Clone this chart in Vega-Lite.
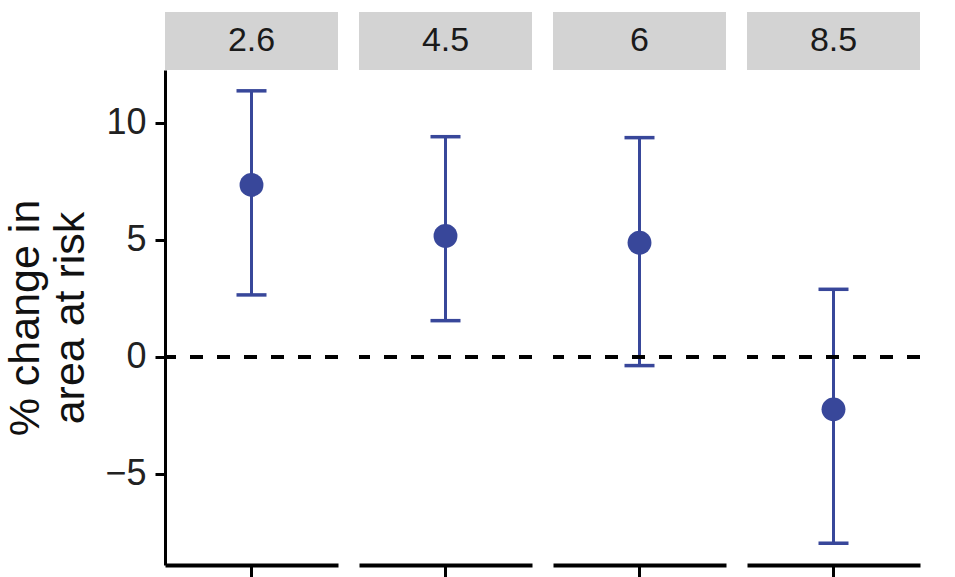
{
  "$schema": "https://vega.github.io/schema/vega-lite/v6.json",
  "background": "white",
  "padding": {"left": 4, "top": 12, "right": 5, "bottom": 0},
  "bounds": "flush",
  "columns": 4,
  "spacing": {"row": 0, "column": 21},
  "resolve": {"scale": {"x": "independent", "y": "independent"}},
  "data": {
    "values": [
      {"scenario": "2.6", "est": 7.35, "lo": 2.65, "hi": 11.37},
      {"scenario": "4.5", "est": 5.17, "lo": 1.55, "hi": 9.41},
      {"scenario": "6", "est": 4.88, "lo": -0.37, "hi": 9.37},
      {"scenario": "8.5", "est": -2.24, "lo": -7.96, "hi": 2.89}
    ]
  },
  "config": {
    "axisX": {"labels": false, "title": null, "ticks": true, "tickSize": 12, "tickWidth": 3, "tickColor": "black", "domainColor": "black", "domainWidth": 4, "grid": false},
    "axisY": {
      "grid": false,
      "domainColor": "black",
      "domainWidth": 3,
      "tickColor": "black",
      "tickWidth": 3,
      "tickSize": 10,
      "labelFont": "Liberation Sans",
      "labelFontSize": 36,
      "labelColor": "#222222",
      "labelPadding": 9,
      "titleFont": "Liberation Sans",
      "titleFontSize": 43,
      "titleFontWeight": "normal",
      "titleColor": "#111111",
      "titleLineHeight": 45,
      "titlePadding": 12
    },
    "text": {"font": "Liberation Sans", "fontSize": 34, "color": "#1A1A1A", "baseline": "middle", "align": "center"},
    "rule": {"color": "#38479A", "strokeWidth": 3},
    "tick": {"color": "#38479A", "thickness": 3.5, "orient": "horizontal", "opacity": 1},
    "point": {"filled": true, "opacity": 1, "color": "#38479A", "size": 570, "shape": "circle"}
  },
  "concat": [
    {"width": 173, "height": 58, "view": {"fill": "#D3D3D3", "stroke": null}, "transform": [{"filter": "datum.scenario === '2.6'"}], "mark": "text", "encoding": {"text": {"field": "scenario", "type": "nominal"}}},
    {"width": 173, "height": 58, "view": {"fill": "#D3D3D3", "stroke": null}, "transform": [{"filter": "datum.scenario === '4.5'"}], "mark": "text", "encoding": {"text": {"field": "scenario", "type": "nominal"}}},
    {"width": 173, "height": 58, "view": {"fill": "#D3D3D3", "stroke": null}, "transform": [{"filter": "datum.scenario === '6'"}], "mark": "text", "encoding": {"text": {"field": "scenario", "type": "nominal"}}},
    {"width": 173, "height": 58, "view": {"fill": "#D3D3D3", "stroke": null}, "transform": [{"filter": "datum.scenario === '8.5'"}], "mark": "text", "encoding": {"text": {"field": "scenario", "type": "nominal"}}},
    {
      "width": 173, "height": 495, "view": {"stroke": null},
      "transform": [{"filter": "datum.scenario === '2.6'"}],
      "layer": [
        {"mark": "rule", "encoding": {"x": {"field": "scenario", "type": "nominal"}, "y": {"field": "lo", "type": "quantitative", "scale": {"domain": [-8.89, 12.26], "nice": false, "zero": false}, "axis": {"values": [-5, 0, 5, 10], "title": ["% change in", "area at risk"]}}, "y2": {"field": "hi"}}},
        {"mark": {"type": "tick", "size": 30}, "encoding": {"x": {"field": "scenario", "type": "nominal"}, "y": {"field": "lo", "type": "quantitative"}}},
        {"mark": {"type": "tick", "size": 30}, "encoding": {"x": {"field": "scenario", "type": "nominal"}, "y": {"field": "hi", "type": "quantitative"}}},
        {"mark": "point", "encoding": {"x": {"field": "scenario", "type": "nominal"}, "y": {"field": "est", "type": "quantitative"}}},
        {"mark": {"type": "rule", "color": "black", "strokeWidth": 4, "strokeDash": [13, 14]}, "encoding": {"y": {"datum": 0}}}
      ]
    },
    {
      "width": 173, "height": 495, "view": {"stroke": null},
      "transform": [{"filter": "datum.scenario === '4.5'"}],
      "layer": [
        {"mark": "rule", "encoding": {"x": {"field": "scenario", "type": "nominal"}, "y": {"field": "lo", "type": "quantitative", "scale": {"domain": [-8.89, 12.26], "nice": false, "zero": false}, "axis": null}, "y2": {"field": "hi"}}},
        {"mark": {"type": "tick", "size": 30}, "encoding": {"x": {"field": "scenario", "type": "nominal"}, "y": {"field": "lo", "type": "quantitative", "axis": null}}},
        {"mark": {"type": "tick", "size": 30}, "encoding": {"x": {"field": "scenario", "type": "nominal"}, "y": {"field": "hi", "type": "quantitative", "axis": null}}},
        {"mark": "point", "encoding": {"x": {"field": "scenario", "type": "nominal"}, "y": {"field": "est", "type": "quantitative", "axis": null}}},
        {"mark": {"type": "rule", "color": "black", "strokeWidth": 4, "strokeDash": [13, 14]}, "encoding": {"y": {"datum": 0, "axis": null}}}
      ]
    },
    {
      "width": 173, "height": 495, "view": {"stroke": null},
      "transform": [{"filter": "datum.scenario === '6'"}],
      "layer": [
        {"mark": "rule", "encoding": {"x": {"field": "scenario", "type": "nominal"}, "y": {"field": "lo", "type": "quantitative", "scale": {"domain": [-8.89, 12.26], "nice": false, "zero": false}, "axis": null}, "y2": {"field": "hi"}}},
        {"mark": {"type": "tick", "size": 30}, "encoding": {"x": {"field": "scenario", "type": "nominal"}, "y": {"field": "lo", "type": "quantitative", "axis": null}}},
        {"mark": {"type": "tick", "size": 30}, "encoding": {"x": {"field": "scenario", "type": "nominal"}, "y": {"field": "hi", "type": "quantitative", "axis": null}}},
        {"mark": "point", "encoding": {"x": {"field": "scenario", "type": "nominal"}, "y": {"field": "est", "type": "quantitative", "axis": null}}},
        {"mark": {"type": "rule", "color": "black", "strokeWidth": 4, "strokeDash": [13, 14]}, "encoding": {"y": {"datum": 0, "axis": null}}}
      ]
    },
    {
      "width": 173, "height": 495, "view": {"stroke": null},
      "transform": [{"filter": "datum.scenario === '8.5'"}],
      "layer": [
        {"mark": "rule", "encoding": {"x": {"field": "scenario", "type": "nominal"}, "y": {"field": "lo", "type": "quantitative", "scale": {"domain": [-8.89, 12.26], "nice": false, "zero": false}, "axis": null}, "y2": {"field": "hi"}}},
        {"mark": {"type": "tick", "size": 30}, "encoding": {"x": {"field": "scenario", "type": "nominal"}, "y": {"field": "lo", "type": "quantitative", "axis": null}}},
        {"mark": {"type": "tick", "size": 30}, "encoding": {"x": {"field": "scenario", "type": "nominal"}, "y": {"field": "hi", "type": "quantitative", "axis": null}}},
        {"mark": "point", "encoding": {"x": {"field": "scenario", "type": "nominal"}, "y": {"field": "est", "type": "quantitative", "axis": null}}},
        {"mark": {"type": "rule", "color": "black", "strokeWidth": 4, "strokeDash": [13, 14]}, "encoding": {"y": {"datum": 0, "axis": null}}}
      ]
    }
  ]
}
